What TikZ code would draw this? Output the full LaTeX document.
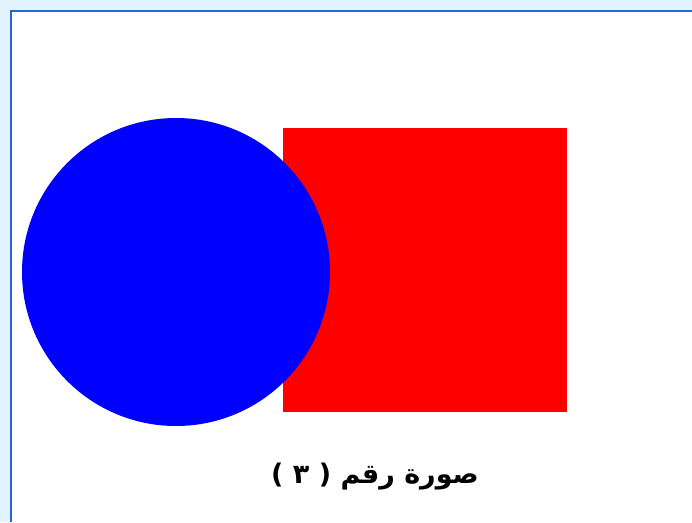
\documentclass[tikz,border=0pt]{standalone}
\usepackage{fontspec}
\newfontfamily\arabicfont[Script=Arabic]{DejaVu Sans}
\TeXXeTstate=1
\definecolor{bgblue}{HTML}{E1F3FC}
\definecolor{frameblue}{HTML}{2A62D8}
\definecolor{shapeblue}{HTML}{0000FF}
\definecolor{shapered}{HTML}{FF0000}
\begin{document}
\begin{tikzpicture}[x=1pt,y=-1pt,
  framestyle/.style={draw=frameblue,line width=2.5pt},
  caption/.style={font=\arabicfont\bfseries\fontsize{27}{32}\selectfont,text=black,inner sep=0pt}]
\useasboundingbox (0,0) rectangle (692,522);
\fill[bgblue] (0,0) rectangle (692,522);
\fill[white] (11,11) rectangle (692,522);
\draw[framestyle] (11,522) -- (11,11) -- (692,11);
\fill[shapered] (283,128) rectangle (567,412);
\fill[shapeblue] (176,272) circle[radius=154];
\node[caption] (cap) at (375,477) {\beginR صورة رقم ( ٣ )\endR};
\end{tikzpicture}
\end{document}
